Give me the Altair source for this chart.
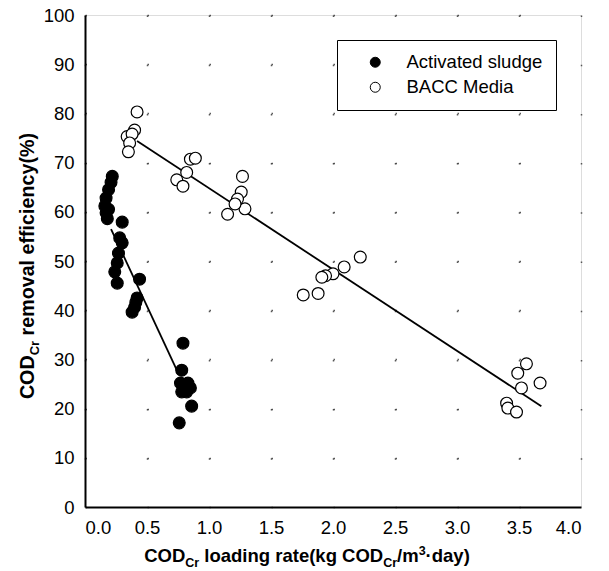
import altair as alt
import pandas as pd

# ---- data ----
as_x = [0.22, 0.21, 0.19, 0.17, 0.16, 0.17, 0.18, 0.19, 0.30, 0.28, 0.30, 0.27, 0.26, 0.24, 0.26,
        0.44, 0.42, 0.41, 0.40, 0.38, 0.79, 0.78, 0.77, 0.83, 0.85, 0.78, 0.82, 0.86, 0.76]
as_y = [67.2, 66.0, 64.5, 62.8, 61.2, 59.8, 58.6, 60.5, 57.9, 54.7, 53.7, 51.6, 49.6, 47.8, 45.5,
        46.3, 42.5, 41.6, 40.6, 39.6, 33.3, 27.8, 25.2, 25.2, 24.2, 23.4, 23.4, 20.5, 17.1]

bacc_x = [0.42, 0.40, 0.34, 0.38, 0.36, 0.35, 0.85, 0.89, 0.82, 0.74, 0.79, 1.27, 1.26, 1.23,
          1.15, 1.29, 1.21, 2.22, 2.09, 2.00, 1.94, 1.91, 1.76, 1.88, 3.56, 3.49, 3.67, 3.52,
          3.40, 3.41, 3.48]
bacc_y = [80.3, 76.6, 75.3, 75.8, 74.0, 72.2, 70.7, 70.9, 68.0, 66.5, 65.2, 67.2, 64.0, 62.6,
          59.5, 60.6, 61.6, 50.8, 48.8, 47.4, 47.0, 46.7, 43.1, 43.4, 29.1, 27.2, 25.2, 24.2,
          21.1, 20.1, 19.3]

as_fit_x = [0.21, 0.75]
as_fit_y = [56.5, 27.3]
bacc_fit_x = [0.42, 3.68]
bacc_fit_y = [74.4, 20.5]

series_names = ["Activated sludge", "BACC Media"]
x_ticks = [0.0, 0.5, 1.0, 1.5, 2.0, 2.5, 3.0, 3.5, 4.0]
y_ticks = [0, 10, 20, 30, 40, 50, 60, 70, 80, 90, 100]

pts = pd.DataFrame({
    "x": as_x + bacc_x,
    "y": as_y + bacc_y,
    "series": [series_names[0]] * len(as_x) + [series_names[1]] * len(bacc_x),
})
fits = pd.DataFrame({
    "x": as_fit_x + bacc_fit_x,
    "y": as_fit_y + bacc_fit_y,
    "series": [series_names[0]] * 2 + [series_names[1]] * 2,
})

FONT = "Liberation Sans"
W, H = 496, 492
LFS = 18.5

xscale = alt.Scale(domain=[0, 4], nice=False, zero=False)
yscale = alt.Scale(domain=[0, 100], nice=False)

xaxis = alt.Axis(values=x_ticks, format=".1f", title=None, ticks=False, labelPadding=11,
                 labelFontSize=LFS, labelFont=FONT, labelColor="black", domainColor="black",
                 domainWidth=2, grid=True, gridColor="#333", gridWidth=1.5, gridOpacity=0.8,
                 gridDash=[1.5, 47.7])
yaxis = alt.Axis(values=y_ticks, title=None, ticks=False, labelPadding=11,
                 labelFontSize=LFS, labelFont=FONT, labelColor="black", domainColor="black",
                 domainWidth=2, grid=True, gridColor="#333", gridWidth=1.5, gridOpacity=0.8,
                 gridDash=[1.5, 60.5])

lines = alt.Chart(fits).mark_line(color="black", strokeWidth=1.8).encode(
    x=alt.X("x:Q", scale=xscale, axis=xaxis),
    y=alt.Y("y:Q", scale=yscale, axis=yaxis),
    detail="series:N",
)

points = alt.Chart(pts).mark_circle(size=140, stroke="black", strokeWidth=1.2, opacity=1).encode(
    x=alt.X("x:Q", scale=xscale),
    y=alt.Y("y:Q", scale=yscale),
    color=alt.Color("series:N",
                    scale=alt.Scale(domain=series_names, range=["black", "white"]),
                    legend=alt.Legend(orient="none", legendX=252, legendY=25, title=None,
                                      strokeColor="black", fillColor="white", padding=13,
                                      labelFontSize=LFS, labelFont=FONT, labelColor="black",
                                      symbolSize=100, symbolStrokeColor="black",
                                      symbolStrokeWidth=1, symbolType="circle",
                                      symbolOffset=16, labelOffset=22, rowPadding=6)),
)

# ---- axis titles with sub/superscripts, built from text segments ----
AW = {'C': 722, 'O': 778, 'D': 722, ' ': 278, 'l': 278, 'o': 611, 'a': 556, 'd': 611,
      'i': 278, 'n': 611, 'g': 611, 'r': 389, 't': 333, 'e': 556, '(': 333, 'k': 556,
      '/': 278, 'm': 889, '3': 556, '·': 333, 'y': 556, ')': 333, 'v': 556, 'f': 333,
      'c': 556, '%': 889}


def tw(s, size):
    return sum(AW.get(ch, 556) for ch in s) * size / 1000.0


def split_lead(s):
    stripped = s.lstrip(" ")
    return s[:len(s) - len(stripped)], stripped


XS, YS, SS = 18.5, 19.7, 12.5
xtitle = [("COD", XS, 0), ("Cr", SS, 5), (" loading rate(kg COD", XS, 0), ("Cr", SS, 5),
          ("/m", XS, 0), ("3", SS, -7), ("·day)", XS, 0)]
ytitle = [("COD", YS, 0), ("Cr", SS + 0.5, 5), (" removal efficiency(%)", YS, 0)]

title_layers = []
total = sum(tw(s, f) for s, f, _ in xtitle)
cx = 222 - total / 2
for s, f, off in xtitle:
    lead, body = split_lead(s)
    cx += tw(lead, f)
    title_layers.append(
        alt.Chart(pd.DataFrame({"t": [body]})).mark_text(
            align="left", baseline="alphabetic", font=FONT, fontSize=f, fontWeight="bold",
            color="black").encode(x=alt.value(cx), y=alt.value(547 + off), text="t:N"))
    cx += tw(body, f)

total = sum(tw(s, f) for s, f, _ in ytitle)
cy = 251 + total / 2
for s, f, off in ytitle:
    lead, body = split_lead(s)
    cy -= tw(lead, f)
    title_layers.append(
        alt.Chart(pd.DataFrame({"t": [body]})).mark_text(
            align="left", baseline="alphabetic", angle=270, font=FONT, fontSize=f,
            fontWeight="bold", color="black").encode(x=alt.value(-51 + off), y=alt.value(cy),
                                                     text="t:N"))
    cy -= tw(body, f)

chart = alt.layer(lines, points, *title_layers).properties(
    width=W, height=H,
    autosize=alt.AutoSizeParams(type="none"),
    padding={"left": 85, "top": 15, "right": 28, "bottom": 64},
).configure_view(stroke="black", strokeWidth=2).configure(background="white")

chart.save("out.html", embed_options={"renderer": "svg", "actions": False})
